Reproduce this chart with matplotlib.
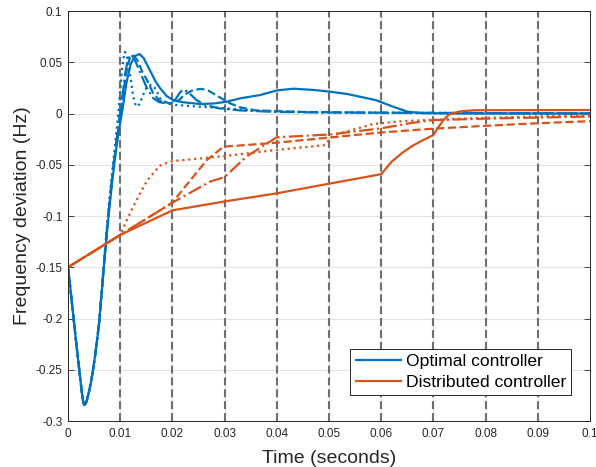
#!/usr/bin/env python3
"""Frequency deviation after a load step: optimal vs distributed controller."""
import matplotlib
matplotlib.use('Agg')
import matplotlib.pyplot as plt
from matplotlib.lines import Line2D

COL = {
    'opt': '#0072BD',
    'dist': '#D95319',
    'vline': '#6E6E6E',
    'grid': '#E3E3E3',
    'ink': '#262626',
}

# common initial dip of the optimal-controller responses
dip_t = [0, 0.0004, 0.0008, 0.0012, 0.0016, 0.002, 0.0024, 0.0027, 0.0029, 0.0031, 0.0033,
         0.0036, 0.004, 0.0044, 0.0048, 0.0052, 0.0056, 0.006]
dip_y = [-0.150, -0.168, -0.187, -0.206, -0.225, -0.243, -0.261, -0.274, -0.281, -0.2845, -0.284,
         -0.280, -0.272, -0.262, -0.250, -0.236, -0.220, -0.202]

# optimal controller tails after the dip (solid, dotted, dash-dot, dashed)
opt_solid_t = [0.0065, 0.007, 0.0075, 0.008, 0.0085, 0.009, 0.0095, 0.01, 0.0104, 0.0112,
               0.012, 0.0128, 0.0137, 0.0145, 0.0157, 0.0167, 0.0176, 0.0189, 0.0202, 0.022,
               0.0253, 0.028, 0.0304, 0.033, 0.0368, 0.040, 0.0432, 0.047, 0.0502, 0.0535,
               0.0559, 0.059, 0.0623, 0.065, 0.068, 0.075, 0.1]
opt_solid_y = [-0.172, -0.142, -0.114, -0.088, -0.065, -0.044, -0.025, -0.009, 0.003, 0.030,
               0.048, 0.056, 0.058, 0.054, 0.042, 0.032, 0.025, 0.017, 0.013, 0.011,
               0.0093, 0.0098, 0.0115, 0.0148, 0.018, 0.0225, 0.0242, 0.023, 0.0213, 0.019,
               0.0164, 0.013, 0.0066, 0.0018, 0.0003, 0.0, 0.0]

opt_dot_t = [0.0065, 0.007, 0.0075, 0.008, 0.0085, 0.009, 0.0094, 0.0098, 0.0101, 0.0104,
             0.0107, 0.0109, 0.0112, 0.0116, 0.012, 0.0124, 0.0128, 0.0133, 0.0138, 0.0143,
             0.0148, 0.0153, 0.016, 0.0168, 0.0176, 0.0189, 0.0202, 0.0253, 0.0304, 0.035,
             0.04, 0.05, 0.06, 0.1]
opt_dot_y = [-0.170, -0.138, -0.108, -0.080, -0.055, -0.031, -0.012, 0.010, 0.028, 0.045,
             0.056, 0.060, 0.058, 0.048, 0.034, 0.020, 0.010, 0.0066, 0.010, 0.017,
             0.023, 0.027, 0.028, 0.024, 0.015, 0.0105, 0.0085, 0.0066, 0.005, 0.003,
             0.002, 0.001, 0.0005, 0.0]

opt_dashdot_t = [0.0065, 0.007, 0.0075, 0.008, 0.0085, 0.009, 0.0095, 0.0101, 0.0106, 0.011,
                 0.0114, 0.0118, 0.0124, 0.013, 0.014, 0.0151, 0.0163, 0.0175, 0.0195, 0.0205,
                 0.0215, 0.0222, 0.0232, 0.0246, 0.0262, 0.029, 0.033, 0.04, 0.05, 0.1]
opt_dashdot_y = [-0.171, -0.140, -0.111, -0.084, -0.060, -0.038, -0.018, 0.005, 0.024, 0.040,
                 0.051, 0.057, 0.056, 0.050, 0.038, 0.025, 0.015, 0.011, 0.0095, 0.013,
                 0.021, 0.0235, 0.020, 0.0132, 0.0085, 0.005, 0.003, 0.0015, 0.001, 0.0]

opt_dash_t = [0.0065, 0.007, 0.0075, 0.008, 0.0085, 0.009, 0.0096, 0.0102, 0.0107, 0.0111,
              0.0115, 0.0119, 0.0125, 0.0133, 0.0143, 0.0151, 0.0163, 0.0175, 0.0195, 0.021,
              0.0225, 0.024, 0.0256, 0.027, 0.029, 0.031, 0.033, 0.036, 0.045, 0.06, 0.1]
opt_dash_y = [-0.171, -0.141, -0.112, -0.086, -0.062, -0.040, -0.017, 0.005, 0.024, 0.038,
              0.048, 0.055, 0.057, 0.052, 0.040, 0.033, 0.020, 0.0125, 0.010, 0.012,
              0.019, 0.023, 0.024, 0.022, 0.016, 0.010, 0.006, 0.003, 0.0015, 0.0008, 0.0]

# distributed controller, four responses
dist_solid_t = [0, 0.01, 0.02, 0.03, 0.04, 0.05, 0.06, 0.062, 0.064, 0.066, 0.068, 0.070,
                0.071, 0.072, 0.073, 0.075, 0.078, 0.1]
dist_solid_y = [-0.150, -0.1185, -0.0945, -0.0858, -0.0779, -0.0685, -0.0592, -0.047, -0.0385,
                -0.0315, -0.026, -0.021, -0.013, -0.006, -0.001, 0.002, 0.0032, 0.0034]

dist_dot_t = [0, 0.01, 0.011, 0.0122, 0.0137, 0.0151, 0.0165, 0.0176, 0.019, 0.02, 0.03, 0.04,
              0.049, 0.051, 0.0585, 0.064, 0.075, 0.1]
dist_dot_y = [-0.150, -0.1185, -0.107, -0.094, -0.079, -0.066, -0.057, -0.051, -0.048, -0.0465,
              -0.0415, -0.0355, -0.031, -0.021, -0.0102, -0.0075, -0.005, -0.0015]

dist_dashdot_t = [0, 0.01, 0.02, 0.0272, 0.03, 0.0342, 0.04, 0.05, 0.06, 0.0655, 0.07, 0.08, 0.1]
dist_dashdot_y = [-0.150, -0.1185, -0.087, -0.0665, -0.062, -0.042, -0.0232, -0.0205, -0.0145,
                  -0.0095, -0.0065, -0.005, -0.003]

dist_dash_t = [0, 0.01, 0.02, 0.0227, 0.0266, 0.0298, 0.04, 0.05, 0.06, 0.07, 0.08, 0.09, 0.1]
dist_dash_y = [-0.150, -0.1185, -0.087, -0.0698, -0.0454, -0.0324, -0.0285, -0.0235, -0.0185,
               -0.0148, -0.012, -0.0095, -0.0075]

x_ticks = [0, 0.01, 0.02, 0.03, 0.04, 0.05, 0.06, 0.07, 0.08, 0.09, 0.1]
x_ticklabels = ['0', '0.01', '0.02', '0.03', '0.04', '0.05', '0.06', '0.07', '0.08', '0.09', '0.1']
y_ticks = [0.1, 0.05, 0, -0.05, -0.1, -0.15, -0.2, -0.25, -0.3]
y_ticklabels = ['0.1', '0.05', '0', '-0.05', '-0.1', '-0.15', '-0.2', '-0.25', '-0.3']
step_times = [0.01, 0.02, 0.03, 0.04, 0.05, 0.06, 0.07, 0.08, 0.09]


def main():
    plt.rcParams.update({'font.family': ['Liberation Sans', 'DejaVu Sans'], 'font.size': 8})
    fig = plt.figure(figsize=(5.96, 4.67), dpi=100, facecolor='white')
    ax = fig.add_axes([68 / 596, 1 - 421 / 467, 522 / 596, 410 / 467])

    ax.grid(True, color=COL['grid'], linewidth=0.8)
    ax.set_axisbelow(True)
    for t in step_times:
        ax.axvline(t, color=COL['vline'], lw=1.5, ls=(0, (3.8, 1.9)), zorder=1.5)

    lw = 1.6
    opt = [(opt_solid_t, opt_solid_y, '-'), (opt_dot_t, opt_dot_y, ':'),
           (opt_dashdot_t, opt_dashdot_y, '-.'), (opt_dash_t, opt_dash_y, '--')]
    for t, y, ls in opt:
        ax.plot(dip_t + t, dip_y + y, color=COL['opt'], lw=lw, ls=ls)
    dist = [(dist_solid_t, dist_solid_y, '-'), (dist_dot_t, dist_dot_y, ':'),
            (dist_dashdot_t, dist_dashdot_y, '-.'), (dist_dash_t, dist_dash_y, '--')]
    for t, y, ls in dist:
        ax.plot(t, y, color=COL['dist'], lw=lw, ls=ls)

    ax.set_xlim(0, 0.1)
    ax.set_ylim(-0.3, 0.1)
    ax.set_xticks(x_ticks, x_ticklabels)
    ax.set_yticks(y_ticks, y_ticklabels)
    ax.tick_params(direction='in', length=4, width=0.6, top=True, right=True,
                   colors=COL['ink'], labelsize=8.5)
    ax.tick_params(axis='x', pad=5)
    ax.tick_params(axis='y', pad=4)
    for sp in ax.spines.values():
        sp.set_color(COL['ink'])
        sp.set_linewidth(0.7)

    ax.set_xlabel('Time (seconds)', fontsize=14, color=COL['ink'], labelpad=7)
    ax.set_ylabel('Frequency deviation (Hz)', fontsize=14, color=COL['ink'], labelpad=3)

    handles = [Line2D([0], [0], color=COL['opt'], lw=lw, label='Optimal controller'),
               Line2D([0], [0], color=COL['dist'], lw=lw, label='Distributed controller')]
    leg = ax.legend(handles=handles, loc='lower right', bbox_to_anchor=(0.964, 0.063),
                    fontsize=12.6, frameon=True, fancybox=False, framealpha=1,
                    edgecolor=COL['ink'], handlelength=2.6, handletextpad=0.25,
                    borderpad=0.3, labelspacing=0.3, borderaxespad=0)
    leg.get_frame().set_linewidth(0.7)

    fig.savefig('out.png', dpi=100, facecolor='white')
    plt.close(fig)


if __name__ == '__main__':
    main()
